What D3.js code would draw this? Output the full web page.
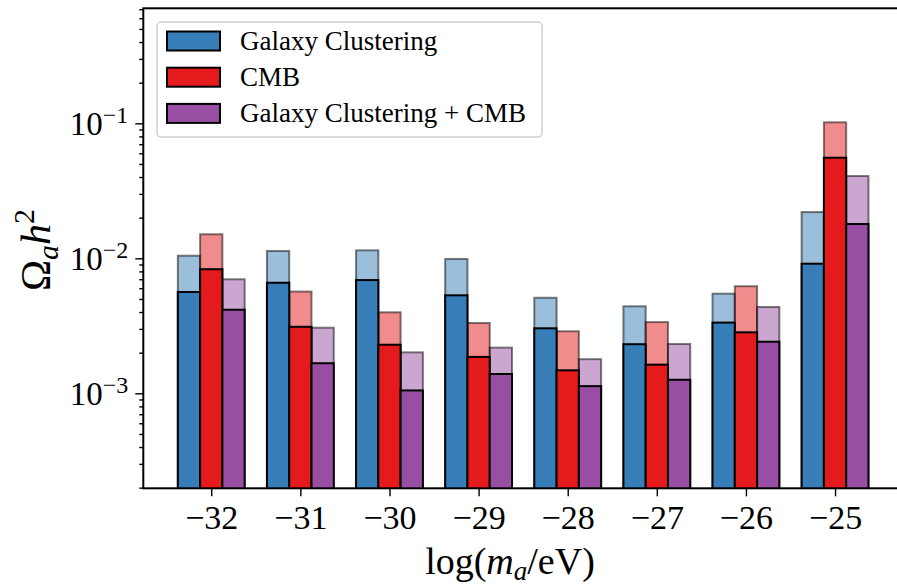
<!DOCTYPE html>
<html>
<head>
<meta charset="utf-8">
<script src="https://cdn.jsdelivr.net/npm/d3@7"></script>
<style>
  body { margin: 0; background: #fff; }
  svg, svg text { font-family: "Liberation Serif", "DejaVu Serif", serif; }
</style>
</head>
<body>
<div id="chart"></div>
<script>
"use strict";

// log10 of axion mass in eV
const masses = [-32, -31, -30, -29, -28, -27, -26, -25];

// solid bars (lower value) and faded bars (upper value)
const galaxyLow  = [0.00563, 0.00659, 0.0069, 0.00532, 0.00303, 0.00231, 0.00334, 0.00912];
const galaxyHigh = [0.01045, 0.01133, 0.01146, 0.00989, 0.0051, 0.00441, 0.00547, 0.022];
const cmbLow     = [0.0083, 0.00311, 0.00229, 0.00186, 0.00148, 0.00163, 0.00283, 0.0556];
const cmbHigh    = [0.01507, 0.00567, 0.00398, 0.00332, 0.00288, 0.00337, 0.00621, 0.1017];
const bothLow    = [0.00416, 0.00167, 0.00105, 0.00139, 0.00113, 0.00126, 0.00241, 0.01795];
const bothHigh   = [0.00699, 0.00306, 0.00201, 0.00218, 0.00179, 0.00232, 0.00436, 0.0407];

const seriesNames = ["Galaxy Clustering", "CMB", "Galaxy Clustering + CMB"];
const majorTicks = [1e-3, 1e-2, 1e-1];
const majorExponents = ["\u22123", "\u22122", "\u22121"];

const series = [
  {name: seriesNames[0], low: galaxyLow, high: galaxyHigh, color: "#377eb8", offset: -0.25},
  {name: seriesNames[1], low: cmbLow, high: cmbHigh, color: "#e41a1c", offset: 0},
  {name: seriesNames[2], low: bothLow, high: bothHigh, color: "#984ea3", offset: 0.25}
];

const width = 897;
const height = 586;
const plot = {left: 143.3, right: 903, top: 8.3, bottom: 488.3};
const barWidth = 0.25;
const serif = "'Liberation Serif', 'DejaVu Serif', serif";

const svg = d3.select("#chart")
  .append("svg")
  .attr("width", width)
  .attr("height", height)
;

const xScale = d3.scaleLinear()
  .domain([-32.7625, -24.2375])
  .range([plot.left, plot.right]);

const yScale = d3.scaleLog()
  .domain([Math.pow(10, -3.7037), Math.pow(10, -0.1481)])
  .range([plot.bottom, plot.top]);

svg.append("clipPath")
  .attr("id", "plot-clip")
  .append("rect")
  .attr("x", plot.left)
  .attr("y", plot.top)
  .attr("width", plot.right - plot.left)
  .attr("height", plot.bottom - plot.top)
;

const bars = svg.append("g").attr("clip-path", "url(#plot-clip)");
const barBase = plot.bottom + 10;

// faded upper bars first
for (const s of series) {
  bars.append("g")
    .selectAll("rect")
    .data(masses)
    .enter()
    .append("rect")
    .attr("x", (d) => xScale(d + s.offset - barWidth / 2))
    .attr("width", (d) => xScale(d + s.offset + barWidth / 2) - xScale(d + s.offset - barWidth / 2))
    .attr("y", (d, i) => yScale(s.high[i]))
    .attr("height", (d, i) => barBase - yScale(s.high[i]))
    .attr("fill", s.color)
    .attr("fill-opacity", 0.5)
    .attr("stroke", "#000")
    .attr("stroke-opacity", 0.5)
    .attr("stroke-width", 2)
  ;
}

// solid lower bars on top
for (const s of series) {
  bars.append("g")
    .selectAll("rect")
    .data(masses)
    .enter()
    .append("rect")
    .attr("x", (d) => xScale(d + s.offset - barWidth / 2))
    .attr("width", (d) => xScale(d + s.offset + barWidth / 2) - xScale(d + s.offset - barWidth / 2))
    .attr("y", (d, i) => yScale(s.low[i]))
    .attr("height", (d, i) => barBase - yScale(s.low[i]))
    .attr("fill", s.color)
    .attr("stroke", "#000")
    .attr("stroke-width", 2)
  ;
}

// y axis: minor ticks
const minorTicks = [];
for (let e = -4; e <= 0; e++) {
  for (let m = 2; m <= 9; m++) {
    const v = m * Math.pow(10, e);
    if (v > yScale.domain()[0] && v < yScale.domain()[1]) minorTicks.push(v);
  }
}

const yMinor = svg.append("g")
  .attr("transform", `translate(${plot.left}, 0)`)
  .call(d3.axisLeft(yScale).tickValues(minorTicks).tickSize(4).tickFormat(""));

const yMajor = svg.append("g")
  .attr("transform", `translate(${plot.left}, 0)`)
  .call(d3.axisLeft(yScale).tickValues(majorTicks).tickSize(8).tickFormat(""))
  .attr("font-family", serif);

for (const g of [yMinor, yMajor]) {
  g.select(".domain").remove();
  g.selectAll(".tick line").attr("stroke", "#000").attr("stroke-width", 1.4);
}

yMajor.selectAll(".tick")
  .append("text")
  .attr("x", -15)
  .attr("y", 11)
  .attr("text-anchor", "end")
  .attr("fill", "#000")
  .style("font-family", serif)
  .style("font-size", "33px")
  .each(function (d, i) {
    const t = d3.select(this);
    t.append("tspan").text("10");
    t.append("tspan").attr("dy", -12).style("font-size", "24px").text(majorExponents[i]);
  })
;

// x axis
const xAxis = svg.append("g")
  .attr("transform", `translate(0, ${plot.bottom})`)
  .call(d3.axisBottom(xScale).tickValues(masses).tickSize(8).tickFormat(""))
  .attr("font-family", serif);
xAxis.select(".domain").remove();
xAxis.selectAll(".tick line").attr("stroke", "#000").attr("stroke-width", 1.4);
xAxis.selectAll(".tick")
  .append("text")
  .attr("y", 41)
  .attr("text-anchor", "middle")
  .attr("fill", "#000")
  .style("font-family", serif)
  .style("font-size", "34px")
  .text((d) => "\u2212" + Math.abs(d))
;

// spines
svg.append("rect")
  .attr("x", plot.left)
  .attr("y", plot.top)
  .attr("width", plot.right - plot.left)
  .attr("height", plot.bottom - plot.top)
  .attr("fill", "none")
  .attr("stroke", "#000")
  .attr("stroke-width", 2)
;

// axis labels
const xLabel = svg.append("text")
  .attr("x", 510)
  .attr("y", 574)
  .attr("text-anchor", "middle")
  .style("font-size", "38px");
xLabel.append("tspan").text("log(");
xLabel.append("tspan").style("font-style", "italic").text("m");
xLabel.append("tspan").attr("dy", 6).style("font-style", "italic").style("font-size", "27px").text("a");
xLabel.append("tspan").attr("dy", -6).text("/eV)");

const yLabel = svg.append("text")
  .attr("transform", "translate(50, 250) rotate(-90)")
  .attr("text-anchor", "middle")
  .style("font-size", "42px");
yLabel.append("tspan").text("\u03a9");
yLabel.append("tspan").attr("dy", 8).style("font-style", "italic").style("font-size", "30px").text("a");
yLabel.append("tspan").attr("dy", -8).style("font-style", "italic").text("h");
yLabel.append("tspan").attr("dy", -16).style("font-size", "30px").text("2");

// legend
const legend = svg.append("g");
legend.append("rect")
  .attr("x", 157)
  .attr("y", 22)
  .attr("width", 385)
  .attr("height", 115)
  .attr("rx", 4)
  .attr("fill", "#fff")
  .attr("fill-opacity", 0.8)
  .attr("stroke", "#d0d0d0")
  .attr("stroke-width", 1.5)
;

const legendRows = legend.selectAll("g.row")
  .data(series)
  .enter()
  .append("g")
  .attr("class", "row")
  .attr("transform", (d, i) => `translate(0, ${41 + i * 36.2})`)
;
legendRows.append("rect")
  .attr("x", 167)
  .attr("y", -9.5)
  .attr("width", 53)
  .attr("height", 19)
  .attr("fill", (d) => d.color)
  .attr("stroke", "#000")
  .attr("stroke-width", 2)
;
legendRows.append("text")
  .attr("x", 240)
  .attr("y", 9)
  .style("font-size", "27px")
  .text((d) => d.name)
;
</script>
</body>
</html>
